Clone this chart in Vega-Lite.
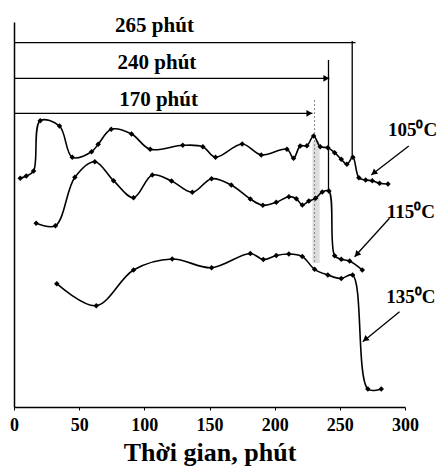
{
  "$schema": "https://vega.github.io/schema/vega-lite/v6.json",
  "width": 391,
  "height": 385,
  "autosize": {"type": "none"},
  "padding": {"left": 14, "top": 22, "right": 35, "bottom": 61},
  "background": "white",
  "config": {
    "view": {"stroke": null},
    "axisX": {"grid": false, "labelFlush": false, "labelOverlap": false, "labelFont": "Liberation Serif", "labelFontWeight": "bold", "labelFontSize": 18, "labelColor": "black",
      "domainColor": "black", "domainWidth": 1.5, "tickColor": "black", "tickSize": 3, "labelPadding": 6,
      "titleFont": "Liberation Serif", "titleFontWeight": "bold", "titleFontSize": 26, "titleColor": "black", "titlePadding": 5},
    "axisY": {"labels": false, "ticks": false, "grid": false, "domainColor": "black", "domainWidth": 1.5}
  },
  "datasets": {
    "curves": [
      {"s": "105", "t": 4.8, "v": 228.7}, {"s": "105", "t": 9.4, "v": 231}, {"s": "105", "t": 15, "v": 236},
      {"s": "105", "t": 20.1, "v": 286.3}, {"s": "105", "t": 34.9, "v": 281}, {"s": "105", "t": 44.7, "v": 249.7},
      {"s": "105", "t": 59.5, "v": 255.3}, {"s": "105", "t": 64.6, "v": 262.7}, {"s": "105", "t": 74.6, "v": 277.7},
      {"s": "105", "t": 90.2, "v": 273}, {"s": "105", "t": 104.5, "v": 257.7}, {"s": "105", "t": 129.5, "v": 261.7},
      {"s": "105", "t": 144.9, "v": 260.3}, {"s": "105", "t": 154.6, "v": 249.7}, {"s": "105", "t": 175.1, "v": 263},
      {"s": "105", "t": 189.7, "v": 252}, {"s": "105", "t": 209.4, "v": 257.7}, {"s": "105", "t": 214.5, "v": 248.7},
      {"s": "105", "t": 219.6, "v": 261}, {"s": "105", "t": 224.7, "v": 261.3}, {"s": "105", "t": 229.9, "v": 271},
      {"s": "105", "t": 235, "v": 260.3}, {"s": "105", "t": 240.8, "v": 259.3}, {"s": "105", "t": 246, "v": 254.3},
      {"s": "105", "t": 251.1, "v": 247.7}, {"s": "105", "t": 255.4, "v": 242.7}, {"s": "105", "t": 260, "v": 249.7},
      {"s": "105", "t": 264.6, "v": 229.3}, {"s": "105", "t": 269.8, "v": 227}, {"s": "105", "t": 274.9, "v": 226.3},
      {"s": "105", "t": 280.5, "v": 223.7}, {"s": "105", "t": 286.9, "v": 223},
      {"s": "115", "t": 17.0, "v": 183.7}, {"s": "115", "t": 31.8, "v": 181.3}, {"s": "115", "t": 46.7, "v": 229.7},
      {"s": "115", "t": 62, "v": 245.3}, {"s": "115", "t": 76.4, "v": 226.3}, {"s": "115", "t": 91.7, "v": 209.3},
      {"s": "115", "t": 106.1, "v": 232}, {"s": "115", "t": 120.9, "v": 226}, {"s": "115", "t": 136.8, "v": 214.7},
      {"s": "115", "t": 151.6, "v": 228.3}, {"s": "115", "t": 166.7, "v": 222}, {"s": "115", "t": 181.3, "v": 208},
      {"s": "115", "t": 190.9, "v": 201.7}, {"s": "115", "t": 201.2, "v": 204.7}, {"s": "115", "t": 210.9, "v": 210.3},
      {"s": "115", "t": 216.6, "v": 208.3}, {"s": "115", "t": 221.2, "v": 202}, {"s": "115", "t": 226.2, "v": 206},
      {"s": "115", "t": 231.4, "v": 208.7}, {"s": "115", "t": 236.5, "v": 215}, {"s": "115", "t": 241.6, "v": 216},
      {"s": "115", "t": 246, "v": 151.3}, {"s": "115", "t": 251.1, "v": 147.7}, {"s": "115", "t": 257.5, "v": 146},
      {"s": "115", "t": 267.2, "v": 137},
      {"s": "135", "t": 32.8, "v": 123.3}, {"s": "135", "t": 63.1, "v": 101.3}, {"s": "135", "t": 91.7, "v": 137},
      {"s": "135", "t": 121.4, "v": 148}, {"s": "135", "t": 151.6, "v": 139.3}, {"s": "135", "t": 181.3, "v": 153.5},
      {"s": "135", "t": 191.3, "v": 147.5}, {"s": "135", "t": 201.2, "v": 151.5}, {"s": "135", "t": 210.9, "v": 153},
      {"s": "135", "t": 221.2, "v": 150.5}, {"s": "135", "t": 230.6, "v": 137.7}, {"s": "135", "t": 240.8, "v": 132},
      {"s": "135", "t": 251.1, "v": 128.5}, {"s": "135", "t": 259.8, "v": 132}, {"s": "135", "t": 271.5, "v": 18},
      {"s": "135", "t": 281.8, "v": 18}
    ],
    "rules": [
      {"x": 0, "x2": 262, "y": 364.3, "y2": 364.3},
      {"x": 259.5, "x2": 259.5, "y": 366, "y2": 250},
      {"x": 0, "x2": 242, "y": 328.7, "y2": 328.7},
      {"x": 241.3, "x2": 241.3, "y": 347, "y2": 216},
      {"x": 0, "x2": 229, "y": 293.7, "y2": 293.7},
      {"x": 302.9, "x2": 274.1, "y": 261, "y2": 232},
      {"x": 288.1, "x2": 261.3, "y": 188.7, "y2": 150.3},
      {"x": 295.8, "x2": 267.6, "y": 95.3, "y2": 65.3}
    ],
    "band": [{"x": 229, "x2": 234.5, "y": 266, "y2": 144}],
    "dotted": [{"x": 230.6, "x2": 230.6, "y": 307, "y2": 144}],
    "heads": [
      {"x": 239.6, "y": 328.7, "a": 90},
      {"x": 226.6, "y": 293.7, "a": 90},
      {"x": 276, "y": 234, "a": 232},
      {"x": 263, "y": 152.5, "a": 222},
      {"x": 269.5, "y": 67.5, "a": 231}
    ],
    "labels": [
      {"x": 107.8, "y": 381, "txt": "265 phút", "fs": 21},
      {"x": 109.7, "y": 344, "txt": "240 phút", "fs": 21},
      {"x": 110.9, "y": 307, "txt": "170 phút", "fs": 21},
      {"x": 305.8, "y": 277, "txt": "105⁰C", "fs": 19},
      {"x": 304.5, "y": 195.3, "txt": "115⁰C", "fs": 19},
      {"x": 304.5, "y": 110.3, "txt": "135⁰C", "fs": 19}
    ]
  },
  "layer": [
    {
      "data": {"name": "band"},
      "mark": {"type": "rect", "color": "#cfcfcf", "opacity": 0.7},
      "encoding": {
        "x": {"field": "x", "type": "quantitative", "scale": {"domain": [0, 300], "nice": false, "zero": false},
          "axis": {"values": [0, 50, 100, 150, 200, 250, 300], "title": "Thời gian, phút"}},
        "x2": {"field": "x2"},
        "y": {"field": "y", "type": "quantitative", "scale": {"domain": [0, 385], "nice": false, "zero": false},
          "axis": {"title": null}},
        "y2": {"field": "y2"}
      }
    },
    {
      "data": {"name": "dotted"},
      "mark": {"type": "rule", "color": "#888888", "strokeDash": [2, 2], "strokeWidth": 1},
      "encoding": {
        "x": {"field": "x", "type": "quantitative", "scale": {"domain": [0, 300], "nice": false, "zero": false},
          "axis": {"values": [0, 50, 100, 150, 200, 250, 300], "title": "Thời gian, phút"}},
        "x2": {"field": "x2"},
        "y": {"field": "y", "type": "quantitative", "scale": {"domain": [0, 385], "nice": false, "zero": false},
          "axis": {"title": null}},
        "y2": {"field": "y2"}
      }
    },
    {
      "data": {"name": "curves"},
      "mark": {"type": "line", "interpolate": "catmull-rom", "color": "black", "strokeWidth": 1.6},
      "encoding": {
        "x": {"field": "t", "type": "quantitative", "scale": {"domain": [0, 300], "nice": false, "zero": false},
          "axis": {"values": [0, 50, 100, 150, 200, 250, 300], "title": "Thời gian, phút"}},
        "y": {"field": "v", "type": "quantitative", "scale": {"domain": [0, 385], "nice": false, "zero": false},
          "axis": {"title": null}},
        "detail": {"field": "s"}
      }
    },
    {
      "data": {"name": "curves"},
      "mark": {"type": "point", "shape": "diamond", "filled": true, "color": "black", "size": 30, "opacity": 1},
      "encoding": {
        "x": {"field": "t", "type": "quantitative", "scale": {"domain": [0, 300], "nice": false, "zero": false},
          "axis": {"values": [0, 50, 100, 150, 200, 250, 300], "title": "Thời gian, phút"}},
        "y": {"field": "v", "type": "quantitative", "scale": {"domain": [0, 385], "nice": false, "zero": false},
          "axis": {"title": null}}
      }
    },
    {
      "data": {"name": "rules"},
      "mark": {"type": "rule", "color": "black", "strokeWidth": 1.3},
      "encoding": {
        "x": {"field": "x", "type": "quantitative", "scale": {"domain": [0, 300], "nice": false, "zero": false},
          "axis": {"values": [0, 50, 100, 150, 200, 250, 300], "title": "Thời gian, phút"}},
        "x2": {"field": "x2"},
        "y": {"field": "y", "type": "quantitative", "scale": {"domain": [0, 385], "nice": false, "zero": false},
          "axis": {"title": null}},
        "y2": {"field": "y2"}
      }
    },
    {
      "data": {"name": "heads"},
      "mark": {"type": "point", "shape": "triangle-up", "filled": true, "color": "black", "opacity": 1, "size": 45},
      "encoding": {
        "x": {"field": "x", "type": "quantitative", "scale": {"domain": [0, 300], "nice": false, "zero": false},
          "axis": {"values": [0, 50, 100, 150, 200, 250, 300], "title": "Thời gian, phút"}},
        "y": {"field": "y", "type": "quantitative", "scale": {"domain": [0, 385], "nice": false, "zero": false},
          "axis": {"title": null}},
        "angle": {"field": "a", "type": "quantitative", "scale": null}
      }
    },
    {
      "data": {"name": "labels"},
      "mark": {"type": "text", "font": "Liberation Serif", "fontWeight": "bold", "color": "black", "baseline": "middle", "align": "center"},
      "encoding": {
        "x": {"field": "x", "type": "quantitative", "scale": {"domain": [0, 300], "nice": false, "zero": false},
          "axis": {"values": [0, 50, 100, 150, 200, 250, 300], "title": "Thời gian, phút"}},
        "y": {"field": "y", "type": "quantitative", "scale": {"domain": [0, 385], "nice": false, "zero": false},
          "axis": {"title": null}},
        "text": {"field": "txt"},
        "size": {"field": "fs", "type": "quantitative", "scale": null}
      }
    }
  ]
}
